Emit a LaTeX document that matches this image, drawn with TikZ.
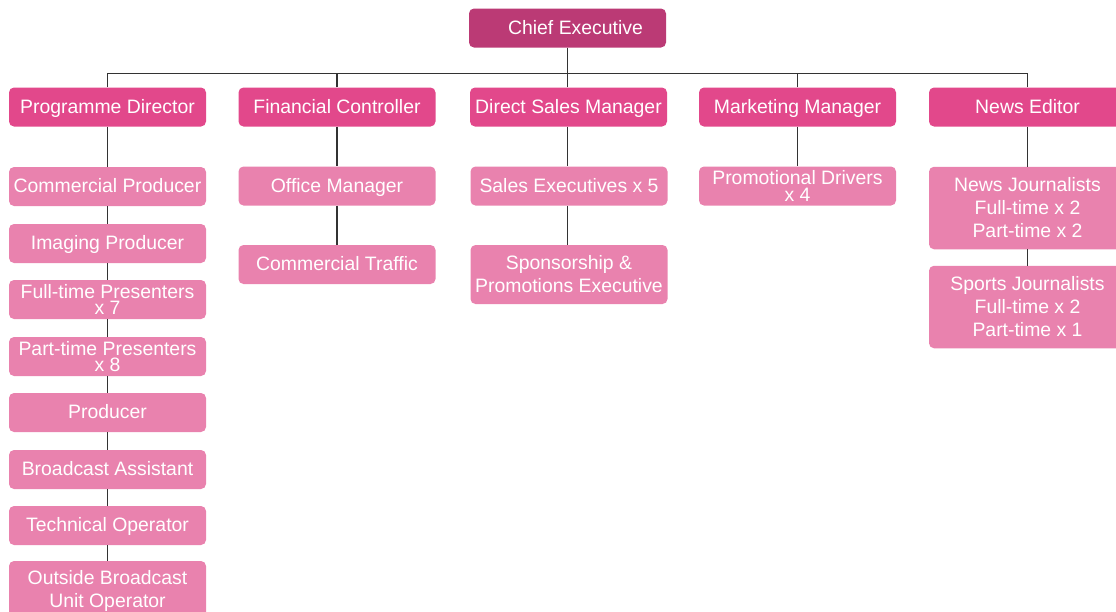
\documentclass[tikz,border=0pt]{standalone}
\usepackage{fontspec}
\setmainfont{Liberation Sans}
\definecolor{topc}{HTML}{BB3A75}
\definecolor{midc}{HTML}{E2488B}
\definecolor{lowc}{HTML}{E982AE}
\definecolor{linec}{HTML}{333333}
\tikzset{
  box/.style={rounded corners=5pt, minimum width=197pt, minimum height=39pt, inner sep=0pt,
    text=white, align=center, font=\fontsize{19.4}{23}\selectfont},
  one/.style={text height=15pt, text depth=3pt},
  topbox/.style={box, one, fill=topc},
  midbox/.style={box, one, fill=midc},
  lowbox/.style={box, one, fill=lowc},
  lowmulti/.style={box, fill=lowc},
  tight/.style={font=\fontsize{19.4}{16.5}\selectfont},
  conn/.style={draw=linec, line width=1.1pt}
}
\begin{document}
\begin{tikzpicture}[x=1pt,y=-1pt]
\useasboundingbox (0,0) rectangle (1116,611);
\clip (0,0) rectangle (1116,611);
% level 1
\node[topbox] (chief) at (567.5,28) {\hspace*{16pt}Chief Executive};
\coordinate (bus) at (567.5,73.5);
% level 2
\node[midbox] (pd) at (107.5,107) {Programme Director};
\node[midbox] (fc) at (337,107) {Financial Controller};
\node[midbox] (dsm) at (568.5,107) {Direct Sales Manager};
\node[midbox] (mm) at (797.5,107) {Marketing Manager};
\node[midbox] (ne) at (1027.5,107) {News Editor};
% column 1
\node[lowbox] (cp) at (107.5,186.5) {Commercial Producer};
\node[lowbox] (ip) at (107.5,243.5) {Imaging Producer};
\node[lowmulti,tight] (ftp) at (107.5,299.5) {Full-time Presenters\\x 7};
\node[lowmulti,tight] (ptp) at (107.5,356.5) {Part-time Presenters\\x 8};
\node[lowbox] (prod) at (107.5,412.5) {Producer};
\node[lowbox] (ba) at (107.5,469.5) {Broadcast Assistant};
\node[lowbox] (to) at (107.5,525.5) {Technical Operator};
\node[lowmulti,minimum height=59pt] (ob) at (107.5,590.5) {Outside Broadcast\\Unit Operator};
% column 2
\node[lowbox] (om) at (337,186) {Office Manager};
\node[lowbox] (ct) at (337,264.5) {Commercial Traffic};
% column 3
\node[lowbox] (se) at (569,186) {Sales Executives x 5};
\node[lowmulti,minimum height=59pt] (spe) at (569,274.5) {Sponsorship \&\\Promotions Executive};
% column 4
\node[lowmulti,tight] (prd) at (797.5,186) {Promotional Drivers\\x 4};
% column 5
\node[lowmulti,minimum height=82.5pt] (nj) at (1027.5,208) {News Journalists\\Full-time x 2\\Part-time x 2};
\node[lowmulti,minimum height=82.5pt] (sj) at (1027.5,307) {Sports Journalists\\Full-time x 2\\Part-time x 1};
% connectors
\draw[conn] (chief.south) -- (bus);
\draw[conn] (pd.north) |- (bus);
\draw[conn] (fc.north) |- (bus);
\draw[conn] (dsm.north -| bus) -- (bus);
\draw[conn] (mm.north) |- (bus);
\draw[conn] (ne.north) |- (bus);
\draw[conn] (pd.south) -- (cp.north);
\draw[conn] (cp.south) -- (ip.north);
\draw[conn] (ip.south) -- (ftp.north);
\draw[conn] (ftp.south) -- (ptp.north);
\draw[conn] (ptp.south) -- (prod.north);
\draw[conn] (prod.south) -- (ba.north);
\draw[conn] (ba.south) -- (to.north);
\draw[conn] (to.south) -- (ob.north);
\draw[conn] (fc.south) -- (om.north);
\draw[conn] (om.south) -- (ct.north);
\draw[conn] (dsm.south -| bus) -- (se.north -| bus);
\draw[conn] (se.south -| bus) -- (spe.north -| bus);
\draw[conn] (mm.south) -- (prd.north);
\draw[conn] (ne.south) -- (nj.north);
\draw[conn] (nj.south) -- (sj.north);
\end{tikzpicture}
\end{document}
